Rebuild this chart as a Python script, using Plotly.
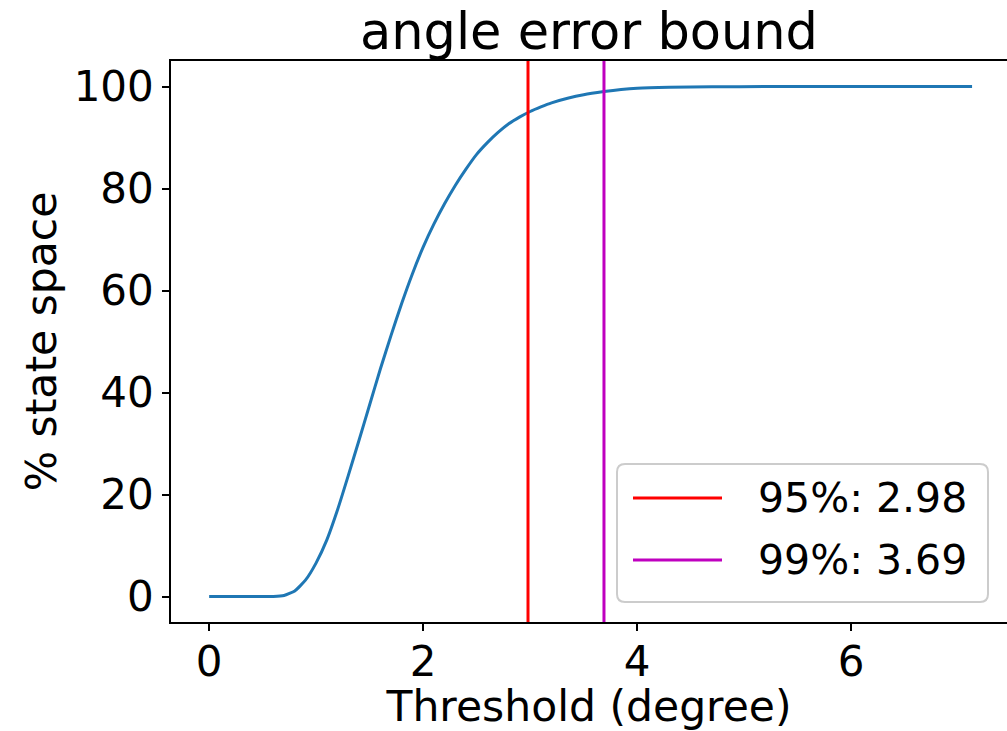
import plotly.graph_objects as go

# Cumulative share of the state space below each angle threshold
threshold_deg = [0.0, 0.3, 0.6, 0.7, 0.8, 0.9, 1.0, 1.1, 1.2, 1.3, 1.4, 1.5, 1.6,
                 1.7, 1.8, 1.9, 2.0, 2.1, 2.2, 2.3, 2.4, 2.5, 2.6, 2.7, 2.8, 2.9,
                 3.0, 3.1, 3.2, 3.35, 3.5, 3.69, 3.85, 4.0, 4.3, 4.7, 5.2, 6.0, 7.13]
pct_state_space = [0.0, 0.0, 0.0, 0.2, 1.1, 3.2, 6.6, 11.1, 17.0, 23.7, 30.6, 37.6,
                   44.6, 51.2, 57.5, 63.3, 68.5, 73.0, 77.0, 80.6, 83.8, 86.7, 89.0,
                   91.0, 92.7, 94.0, 95.1, 96.0, 96.8, 97.7, 98.4, 99.0, 99.4, 99.65,
                   99.85, 99.95, 99.98, 100.0, 100.0]

# Bound levels and the thresholds at which they are reached
bound_levels = [95, 99]
bound_values = [2.98, 3.69]
bound_colors = ["#ff0000", "#bf00bf"]

x_ticks = [0, 2, 4, 6]
y_ticks = [0, 20, 40, 60, 80, 100]

W, H = 1007, 731
ML, MR, MT, MB = 171, 0, 61, 109
PW, PH = W - ML - MR, H - MT - MB
FONT = "DejaVu Sans"


def px_x(px):
    return (px - ML) / PW


def px_y(py):
    return (H - MB - py) / PH


fig = go.Figure()
fig.add_trace(go.Scatter(
    x=threshold_deg, y=pct_state_space, mode="lines",
    line=dict(color="#1f77b4", width=3, shape="spline", smoothing=0.5),
    showlegend=False, hoverinfo="skip",
))

shapes = []
for v, c in zip(bound_values, bound_colors):
    shapes.append(dict(type="line", xref="x", yref="paper", x0=v, x1=v, y0=0, y1=1,
                       line=dict(color=c, width=3), layer="above"))

# Legend box with rounded corners
lx0, lx1, ly0, ly1 = px_x(617), px_x(988), px_y(602), px_y(464)
rx, ry = 8 / PW, 8 / PH
path = (f"M {lx0 + rx},{ly0} L {lx1 - rx},{ly0} Q {lx1},{ly0} {lx1},{ly0 + ry} "
        f"L {lx1},{ly1 - ry} Q {lx1},{ly1} {lx1 - rx},{ly1} "
        f"L {lx0 + rx},{ly1} Q {lx0},{ly1} {lx0},{ly1 - ry} "
        f"L {lx0},{ly0 + ry} Q {lx0},{ly0} {lx0 + rx},{ly0} Z")
shapes.append(dict(type="path", xref="paper", yref="paper", path=path,
                   fillcolor="rgba(255,255,255,0.8)",
                   line=dict(color="#cccccc", width=2), layer="above"))

annotations = []
row_y = [498, 560]
for lvl, v, c, ry_px in zip(bound_levels, bound_values, bound_colors, row_y):
    shapes.append(dict(type="line", xref="paper", yref="paper",
                       x0=px_x(633), x1=px_x(722), y0=px_y(ry_px), y1=px_y(ry_px),
                       line=dict(color=c, width=3), layer="above"))
    annotations.append(dict(text=f"{lvl}%: {v:.2f}", xref="paper", yref="paper",
                            x=px_x(756), y=px_y(ry_px), xanchor="left", yanchor="middle",
                            showarrow=False, font=dict(family=FONT, size=41, color="black")))

axis_common = dict(
    showline=True, linecolor="black", linewidth=1.6,
    ticks="outside", ticklen=7, tickwidth=1.6, tickcolor="black",
    showgrid=False, zeroline=False,
    tickfont=dict(family=FONT, size=42, color="black"),
)

fig.update_layout(
    width=W, height=H,
    margin=dict(l=ML, r=MR, t=MT, b=MB, pad=0),
    paper_bgcolor="white", plot_bgcolor="white",
    title=dict(text="angle error bound", x=px_x(589), xref="paper",
               y=1 - 31 / H, yref="container", xanchor="center", yanchor="middle",
               font=dict(family=FONT, size=51, color="black")),
    xaxis=dict(range=[-0.3565, -0.3565 + PW / 107.0], tickvals=x_ticks,
               mirror=True, ticklabelstandoff=-5,
               title=dict(text="Threshold (degree)", standoff=10,
                          font=dict(family=FONT, size=42.5, color="black")),
               **axis_common),
    yaxis=dict(range=[-5, 105], tickvals=y_ticks,
               title=dict(text="% state space", standoff=4,
                          font=dict(family=FONT, size=42.5, color="black")),
               **axis_common),
    shapes=shapes,
    annotations=annotations,
    showlegend=False,
)

fig.write_html("out.html")
